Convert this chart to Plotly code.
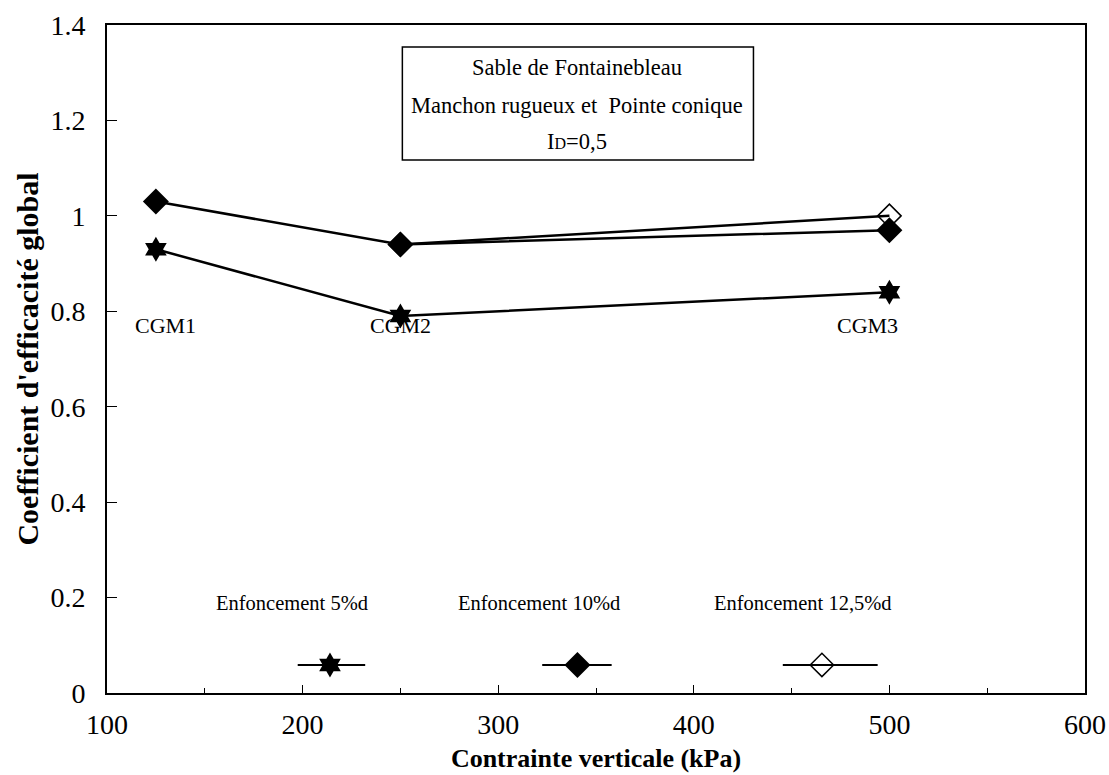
import plotly.graph_objects as go

# ---- data ----
contrainte = [125, 250, 500]
series_5 = [0.93, 0.79, 0.84]
series_10 = [1.03, 0.94, 0.97]
contrainte_125 = [250, 500]
series_125 = [0.94, 1.00]

cgm_labels = ["CGM1", "CGM2", "CGM3"]
cgm_x = [130, 250, 489]
cgm_y = [0.77, 0.77, 0.77]

legend_names = ["Enfoncement 5%d", "Enfoncement 10%d", "Enfoncement 12,5%d"]

x_ticks = [100, 200, 300, 400, 500, 600]
y_ticks = [0, 0.2, 0.4, 0.6, 0.8, 1, 1.2, 1.4]
y_ticklabels = ["0", "0.2", "0.4", "0.6", "0.8", "1", "1.2", "1.4"]

SERIF = "Liberation Serif"
BLACK = "black"

fig = go.Figure()

styles = [
    dict(symbol="hexagram", size=19, color=BLACK, line=dict(width=0)),
    dict(symbol="diamond", size=20, color=BLACK, line=dict(width=0)),
    dict(symbol="diamond-open", size=18, color=BLACK, line=dict(width=1.5, color=BLACK)),
]

fig.add_trace(go.Scatter(x=contrainte_125, y=series_125, mode="lines+markers",
                         line=dict(color=BLACK, width=2.5), marker=styles[2],
                         name=legend_names[2], showlegend=False))
fig.add_trace(go.Scatter(x=contrainte, y=series_10, mode="lines+markers",
                         line=dict(color=BLACK, width=2.5), marker=styles[1],
                         name=legend_names[1], showlegend=False))
fig.add_trace(go.Scatter(x=contrainte, y=series_5, mode="lines+markers",
                         line=dict(color=BLACK, width=2.5), marker=styles[0],
                         name=legend_names[0], showlegend=False))

# ---- custom legend (text above key) on an overlay axis in paper units ----
leg_text_x = [0.189, 0.442, 0.712]
leg_text_y = 0.135
leg_key = [(0.195, 0.228, 0.264), (0.445, 0.481, 0.516), (0.691, 0.731, 0.788)]
leg_key_y = 0.042
for i, (x0, xm, x1) in enumerate(leg_key):
    fig.add_trace(go.Scatter(x=[x0, x1], y=[leg_key_y] * 2, mode="lines",
                             line=dict(color=BLACK, width=2),
                             xaxis="x2", yaxis="y2", showlegend=False, hoverinfo="skip"))
    fig.add_trace(go.Scatter(x=[xm], y=[leg_key_y], mode="markers", marker=styles[i],
                             xaxis="x2", yaxis="y2", showlegend=False, hoverinfo="skip"))
    fig.add_annotation(x=leg_text_x[i], y=leg_text_y, xref="paper", yref="paper",
                       xanchor="center", yanchor="middle",
                       text=legend_names[i], showarrow=False,
                       font=dict(family=SERIF, size=20.5, color=BLACK))

# ---- CGM labels ----
for lab, cx, cy in zip(cgm_labels, cgm_x, cgm_y):
    fig.add_annotation(x=cx, y=cy, text=lab, showarrow=False, xanchor="center",
                       font=dict(family=SERIF, size=22, color=BLACK))

# ---- info box ----
fig.add_shape(type="rect", xref="paper", yref="paper", x0=0.302, x1=0.661, y0=0.798, y1=0.967,
              line=dict(color=BLACK, width=1.5), fillcolor="white", layer="below")
box_lines = ["Sable de Fontainebleau", "Manchon rugueux et  Pointe conique",
             "I<span style='font-size:16px'>D</span>=0,5"]
box_y = [0.936, 0.879, 0.825]
for t, by in zip(box_lines, box_y):
    fig.add_annotation(x=0.481, y=by, xref="paper", yref="paper", text=t, showarrow=False,
                       xanchor="center", yanchor="middle",
                       font=dict(family=SERIF, size=22.5, color=BLACK))

fig.update_layout(
    width=1109, height=775,
    margin=dict(l=107, r=24, t=25, b=82, autoexpand=False),
    paper_bgcolor="white", plot_bgcolor="white",
    font=dict(family=SERIF, color=BLACK),
    xaxis=dict(range=[100, 600], tickvals=x_ticks, ticks="inside", ticklen=8, tickcolor=BLACK,
               minor=dict(dtick=50, ticks="inside", ticklen=5, tickcolor=BLACK),
               showline=True, linecolor=BLACK, linewidth=2, mirror=True, showgrid=False,
               zeroline=False, ticklabelstandoff=5, automargin=False,
               tickfont=dict(family=SERIF, size=28, color=BLACK),
               title=dict(text="<b>Contrainte verticale (kPa)</b>", standoff=10,
                          font=dict(family=SERIF, size=26, color=BLACK))),
    yaxis=dict(range=[0, 1.4], tickvals=y_ticks, ticktext=y_ticklabels, ticks="inside",
               ticklen=10, tickcolor=BLACK,
               showline=True, linecolor=BLACK, linewidth=2, mirror=True, showgrid=False,
               zeroline=False, ticklabelstandoff=14, automargin=False,
               tickfont=dict(family=SERIF, size=28, color=BLACK),
               title=dict(text="<b>Coefficient d'efficacité global</b>", standoff=3,
                          font=dict(family=SERIF, size=30, color=BLACK))),
    xaxis2=dict(range=[0, 1], overlaying="x", visible=False, fixedrange=True, automargin=False),
    yaxis2=dict(range=[0, 1], overlaying="y", visible=False, fixedrange=True, automargin=False),
    showlegend=False,
)

# remove the browser's default 8px body margin so the figure fills the window exactly
fig.write_html("out.html", config={"displayModeBar": False},
               post_script="document.body.style.margin='0';")
